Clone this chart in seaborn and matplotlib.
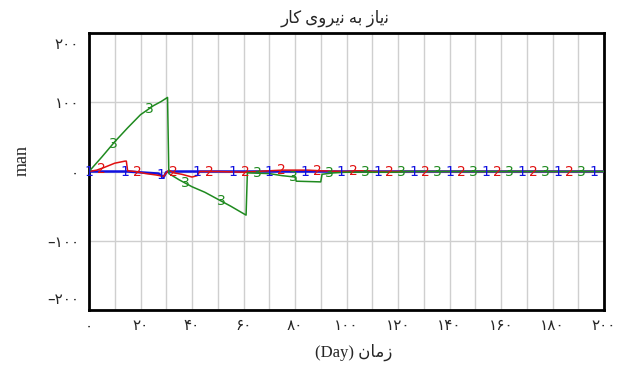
"""
Labour demand (Vensim style run comparison)
"""
import numpy as np
import matplotlib.pyplot as plt
import matplotlib.transforms as mtransforms
import seaborn as sns
import pandas as pd

# run 1 (blue)
days_1 = [0, 15, 27, 29, 30, 31, 200]
vals_1 = [0, 0, -3, -8, -1, 0, 0]

# run 2 (red)
days_2 = [0, 3, 6, 10, 14, 14.5, 15, 18, 22, 26, 29, 30, 31, 33, 36, 40, 42, 43,
          50, 60, 70, 75, 85, 90, 100, 103, 108, 110, 200]
vals_2 = [0, 2, 6, 12, 15, 15, 1, 0, -3, -5, -7, -2, 2, -2, -4, -8, -6, 0,
          0, -1, 1, 2, 2, 1, 0, 1, 1, 0, 0]

# run 3 (green)
days_3 = [0, 5, 10, 15, 20, 25, 28, 30.5, 31, 35, 40, 45, 50, 55, 61, 61.5,
          70, 75, 80, 80.5, 90, 90.5, 95, 100, 110, 121, 123, 200]
vals_3 = [0, 21, 43, 63, 82, 95, 101, 107, -3, -12, -22, -30, -40, -50, -63, -2,
          -3, -6, -8, -14, -15, -4, -2, -1, -1, -1, 0, 0]

x_ticks = [0, 20, 40, 60, 80, 100, 120, 140, 160, 180, 200]
x_labels = ["۰", "۲۰", "۴۰", "۶۰", "۸۰", "۱۰۰", "۱۲۰", "۱۴۰", "۱۶۰", "۱۸۰", "۲۰۰"]
y_ticks = [-200, -100, 0, 100, 200]
y_labels = ["–۲۰۰", "–۱۰۰", "۰", "۱۰۰", "۲۰۰"]

# Arabic letters written in presentation forms, visual order
title = "\uFEAD\uFE8E\uFB90 \uFBFC\uFEED\uFEAE\uFBFE\uFEE7 \uFEEA\uFE91 \uFEAF\uFE8E\uFBFE\uFEE7"
x_title = "(Day) \uFEE5\uFE8E\uFEE3\uFEAF"
y_title = "man"

sns.set_style("white")
plt.rcParams["font.family"] = ["Liberation Serif", "DejaVu Sans"]

fig = plt.figure(figsize=(6.21, 3.65), dpi=100)
ax = fig.add_axes([89 / 621, 1 - 310 / 365, 515 / 621, 277 / 365])

series = [
    (days_1, vals_1, "#1010e0", 1.8, "1", 0.0),
    (days_2, vals_2, "#e01010", 1.1, "2", 14 / 3),
    (days_3, vals_3, "#1f8a1f", 1.1, "3", 28 / 3),
]

for days, vals, color, lw, tag, offset in series:
    df = pd.DataFrame({"day": days, "value": vals})
    sns.lineplot(data=df, x="day", y="value", color=color, linewidth=lw,
                 sort=False, estimator=None, ax=ax, zorder=3)

# run numbers along each line, like Vensim
for days, vals, color, lw, tag, offset in series:
    mark_days = np.arange(offset, 200.1, 14)
    for d in mark_days:
        ax.text(d, np.interp(d, days, vals), tag, color=color, fontsize=10,
                family="DejaVu Sans", ha="center", va="center", zorder=4, clip_on=False)

ax.set_xlim(0, 200)
ax.set_ylim(-200, 200)
ax.set_xticks(np.arange(0, 201, 10), minor=True)
ax.set_xticks(x_ticks)
ax.set_xticklabels(x_labels, fontsize=11, family="DejaVu Sans")
ax.set_yticks([-100, 0, 100], minor=True)
ax.set_yticks(y_ticks)
ax.set_yticklabels(y_labels, fontsize=11, family="DejaVu Sans")
ax.grid(which="both", axis="both", color="#cfcfcf", linewidth=1.0, zorder=0)
ax.tick_params(which="both", length=0)
ax.tick_params(axis="x", pad=6)
ax.tick_params(axis="y", pad=7)

# keep the end labels inside the frame
labs = ax.get_yticklabels()
shift = {0: 12, 4: -10}
for i, px in shift.items():
    labs[i].set_transform(labs[i].get_transform()
                          + mtransforms.ScaledTranslation(0, px / 100, fig.dpi_scale_trans))

for s in ax.spines.values():
    s.set_visible(True)
    s.set_color("black")
    s.set_linewidth(2)

ax.set_xlabel("")
ax.set_ylabel("")
fig.text(22 / 621, 1 - 160 / 365, y_title, rotation=90, ha="center", va="center", fontsize=13)
fig.text(354 / 621, 1 - 352 / 365, x_title, ha="center", va="center", fontsize=12)
fig.text(335 / 621, 1 - 18 / 365, title, ha="center", va="center", fontsize=12)

fig.savefig("out.png", dpi=100)
